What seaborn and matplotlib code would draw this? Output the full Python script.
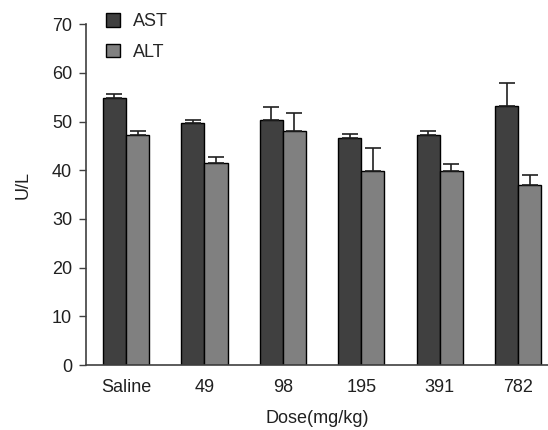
import matplotlib
matplotlib.use("Agg")
import matplotlib.pyplot as plt
import pandas as pd
import seaborn as sns

doses = ["Saline", "49", "98", "195", "391", "782"]
ast_mean = [54.8, 49.6, 50.4, 46.7, 47.2, 53.2]
ast_err = [0.8, 0.8, 2.6, 0.8, 0.8, 4.8]
alt_mean = [47.2, 41.4, 48.0, 39.8, 39.8, 37.0]
alt_err = [0.8, 1.4, 3.7, 4.8, 1.4, 2.1]

df = pd.DataFrame({
    "dose": doses * 2,
    "value": ast_mean + alt_mean,
    "err": ast_err + alt_err,
    "enzyme": ["AST"] * len(doses) + ["ALT"] * len(doses),
})

sns.set_theme(style="ticks")
plt.rcParams["font.family"] = ["Liberation Sans", "DejaVu Sans"]

fig = plt.figure(figsize=(5.48, 4.30), dpi=100)
ax = fig.add_axes([0.157, 0.151, 0.843, 0.793])

palette = {"AST": "#404040", "ALT": "#808080"}
sns.barplot(data=df, x="dose", y="value", hue="enzyme", palette=palette,
            errorbar=None, width=0.59, edgecolor="black", linewidth=1.0,
            saturation=1, ax=ax, legend=True)

# error bars (upward only) drawn at bar centers
for cont, errs in zip(ax.containers, [ast_err, alt_err]):
    for bar, e in zip(cont, errs):
        xc = bar.get_x() + bar.get_width() / 2
        ax.errorbar(xc, bar.get_height(), yerr=[[0], [e]], fmt="none",
                    ecolor="#202020", elinewidth=1.2, capsize=6, capthick=1.2)

ax.set_ylim(0, 70)
ax.set_xlim(-0.51, 5.38)
ax.set_yticks(range(0, 71, 10))
ax.tick_params(axis="y", labelsize=13, length=5, width=1, color="#404040", labelcolor="#202020", pad=5)
ax.tick_params(axis="x", labelsize=13, length=0, pad=10, labelcolor="#202020")
ax.set_xlabel("Dose(mg/kg)", fontsize=13, color="#202020", labelpad=10)
ax.set_ylabel("U/L", fontsize=13, color="#202020")
ax.yaxis.set_label_coords(-0.118, 0.528)
sns.despine(ax=ax)
for s in ["left", "bottom"]:
    ax.spines[s].set_color("#404040")
    ax.spines[s].set_linewidth(1.2)

ax.legend(loc="upper left", bbox_to_anchor=(0.193, 0.97), bbox_transform=fig.transFigure,
          frameon=False, fontsize=13, handlelength=0.8, handleheight=0.8,
          labelspacing=0.75, handletextpad=0.7, borderaxespad=0, borderpad=0)

fig.savefig("out.png", dpi=100)
